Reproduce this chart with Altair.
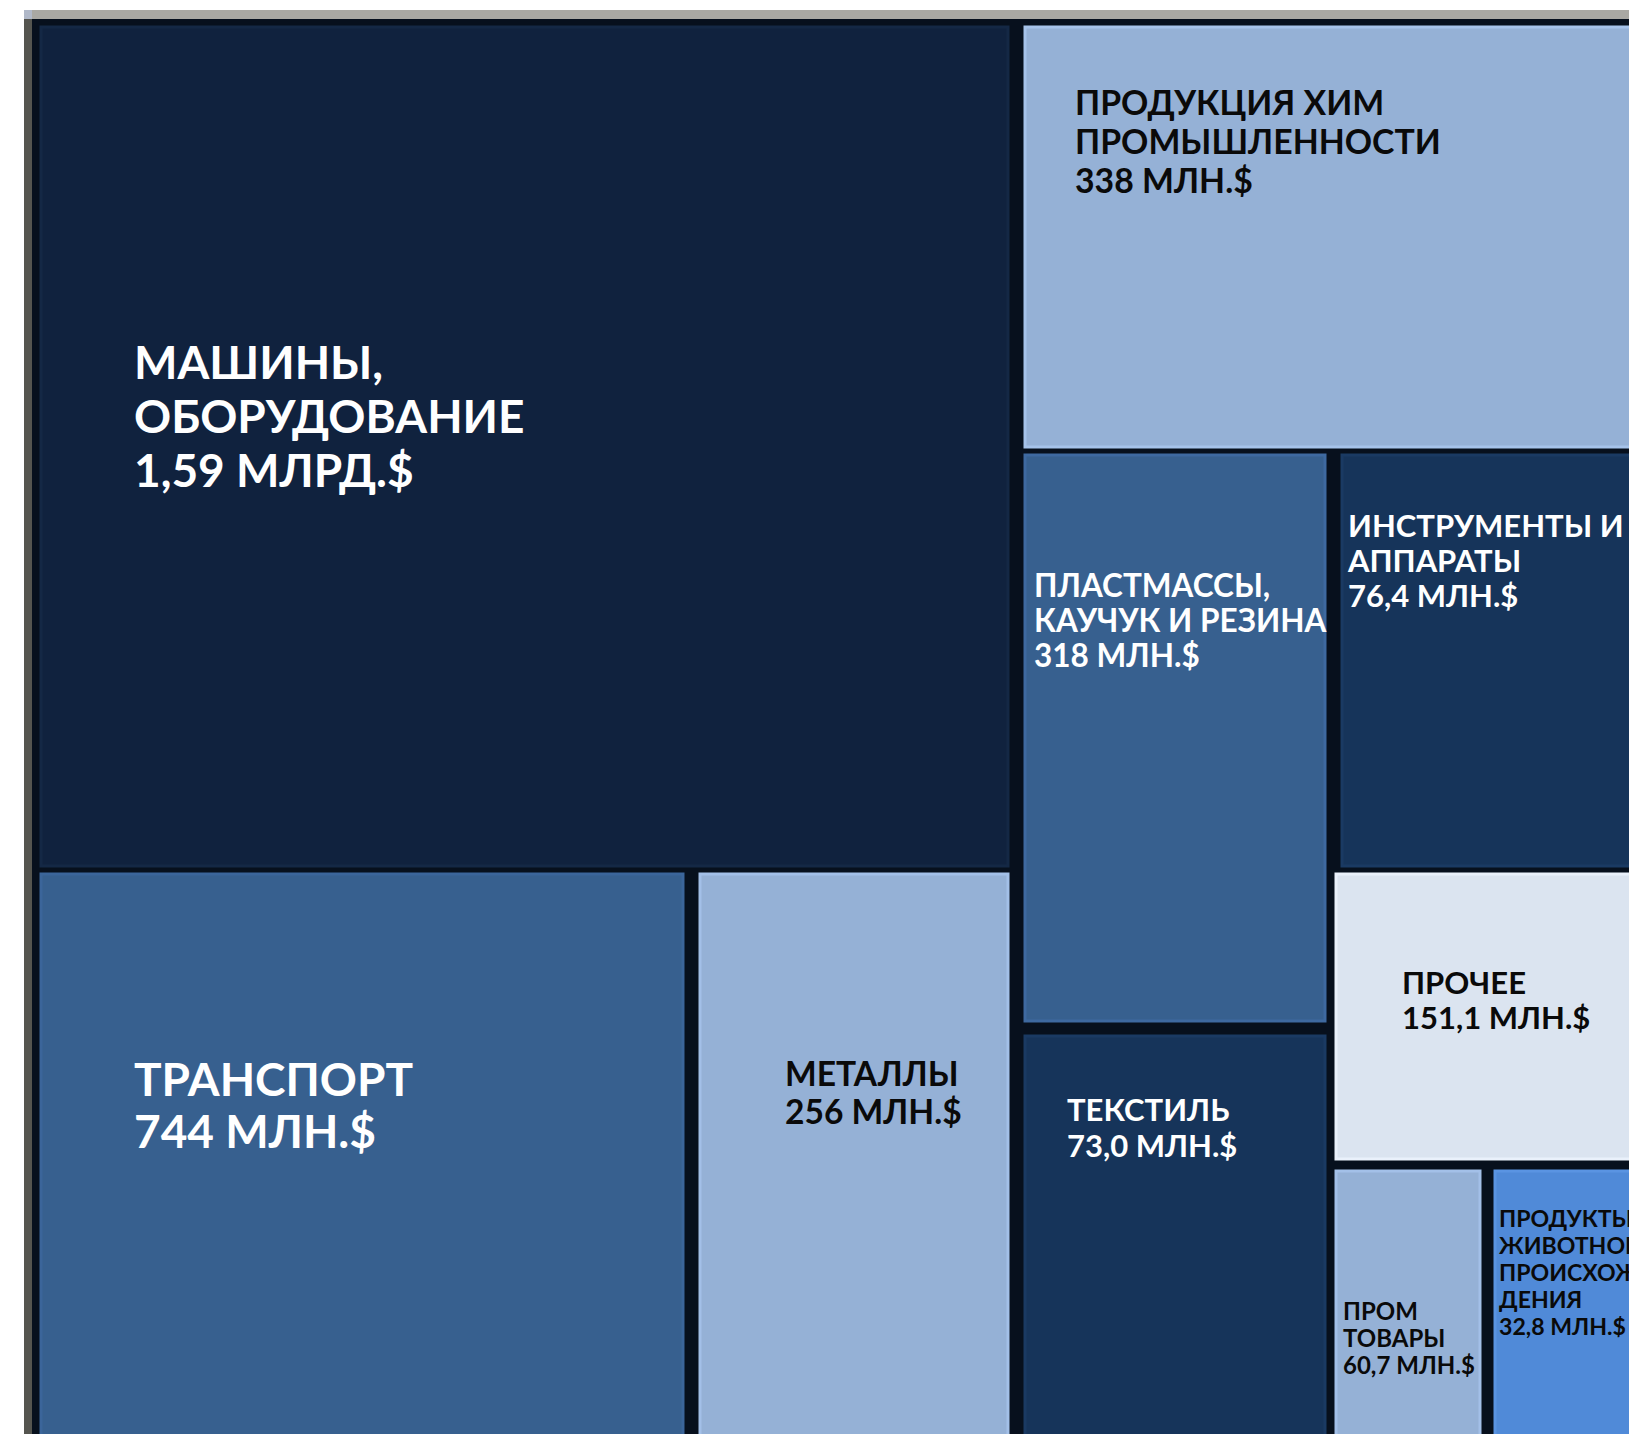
import altair as alt
import pandas as pd

# Canvas extent (picture units, origin at chart top-left)
W = 1621
H = 1426

# Treemap cells (cropped view) — categories, values, colours, and extents
names = ["Машины", "Химия", "Пластмассы", "Инструменты", "Транспорт",
         "Металлы", "Текстиль", "Прочее", "Пром товары", "Продукты живот."]
labels = [
    "МАШИНЫ,\nОБОРУДОВАНИЕ\n1,59 МЛРД.$",
    "ПРОДУКЦИЯ ХИМ\nПРОМЫШЛЕННОСТИ\n338 МЛН.$",
    "ПЛАСТМАССЫ,\nКАУЧУК И РЕЗИНА\n318 МЛН.$",
    "ИНСТРУМЕНТЫ И\nАППАРАТЫ\n76,4 МЛН.$",
    "ТРАНСПОРТ\n744 МЛН.$",
    "МЕТАЛЛЫ\n256 МЛН.$",
    "ТЕКСТИЛЬ\n73,0 МЛН.$",
    "ПРОЧЕЕ\n151,1 МЛН.$",
    "ПРОМ\nТОВАРЫ\n60,7 МЛН.$",
    "ПРОДУКТЫ\nЖИВОТНОГО\nПРОИСХОЖ\nДЕНИЯ\n32,8 МЛН.$",
]
values_mln = [1590, 338, 318, 76.4, 744, 256, 73.0, 151.1, 60.7, 32.8]
fills = ["#10223e", "#95b1d6", "#37608f", "#16345a", "#37608f",
         "#95b1d6", "#16345a", "#dbe4f0", "#95b1d6", "#508ad8"]
edges = ["#142845", "#a6c3ea", "#3e69a0", "#1a3a63", "#3b659a",
         "#a3c0e8", "#1a3a63", "#eaf1fb", "#a3c0e8", "#5a94e2"]
text_colors = ["#ffffff", "#0a0a0a", "#ffffff", "#ffffff", "#ffffff",
               "#0a0a0a", "#ffffff", "#0a0a0a", "#0a0a0a", "#0a0a0a"]

x0 = [33, 1017, 1017, 1334, 33, 692, 1017, 1328, 1328, 1487]
x1 = [1000, 1640, 1317, 1640, 675, 1000, 1317, 1640, 1472, 1640]
y0 = [19, 19, 447, 447, 866, 866, 1028, 866, 1163, 1163]
y1 = [858, 439, 1013, 858, 1440, 1440, 1440, 1151, 1440, 1440]

# Label anchors (first baseline) and type sizes
lx = [126, 1067, 1026, 1340, 126, 777, 1059, 1394, 1335, 1491]
ly = [371, 107, 589, 529, 1088, 1078, 1113, 986, 1312, 1219]
fsize = [46, 33.8, 31.5, 31, 46, 33.6, 31, 31, 24, 23.1]
lheight = [54, 39, 35, 35, 52, 38, 36, 35, 27, 27]

cells = pd.DataFrame({
    "name": names, "value": values_mln, "fill": fills, "edge": edges,
    "x0": x0, "x1": x1, "y0": y0, "y1": y1,
})

# Frame strips (gray edge of the cropped image and dark gutters)
frame = pd.DataFrame({
    "part": ["gutter", "top", "left", "corner"],
    "x0": [24, 16, 16, 16], "x1": [W, W, 24, 24],
    "y0": [11, 2, 11, 2], "y1": [H, 11, H, 11],
    "fill": ["#07101d", "#a9a8a3", "#55554f", "#b0b8c8"],
})

xs = alt.Scale(domain=[0, W], range=[0, W], nice=False, zero=False)
ys = alt.Scale(domain=[0, H], range=[0, H], nice=False, zero=False)

frame_layer = alt.Chart(frame).mark_rect().encode(
    x=alt.X("x0:Q", scale=xs, axis=None), x2="x1:Q",
    y=alt.Y("y0:Q", scale=ys, axis=None), y2="y1:Q",
    fill=alt.Fill("fill:N", scale=None),
)

cell_layer = alt.Chart(cells).mark_rect(strokeWidth=3).encode(
    x=alt.X("x0:Q", scale=xs, axis=None), x2="x1:Q",
    y=alt.Y("y0:Q", scale=ys, axis=None), y2="y1:Q",
    fill=alt.Fill("fill:N", scale=None),
    stroke=alt.Stroke("edge:N", scale=None),
    tooltip=["name:N", "value:Q"],
)

layers = [frame_layer, cell_layer]
for i in range(len(names)):
    df = pd.DataFrame({"label": [labels[i]], "lx": [lx[i]], "ly": [ly[i]]})
    t = alt.Chart(df).mark_text(
        align="left", baseline="alphabetic", font="Lato", fontWeight="bold",
        fontSize=fsize[i], lineHeight=lheight[i], color=text_colors[i],
        lineBreak="\n",
    ).encode(
        x=alt.X("lx:Q", scale=xs, axis=None),
        y=alt.Y("ly:Q", scale=ys, axis=None),
        text="label:N",
    )
    layers.append(t)

chart = alt.layer(*layers).properties(
    width=W, height=H, padding=0, autosize=alt.AutoSizeParams(type="none"),
    background="#ffffff",
).configure_view(stroke=None)

chart.save("out.html", embed_options={"renderer": "svg", "actions": False})
